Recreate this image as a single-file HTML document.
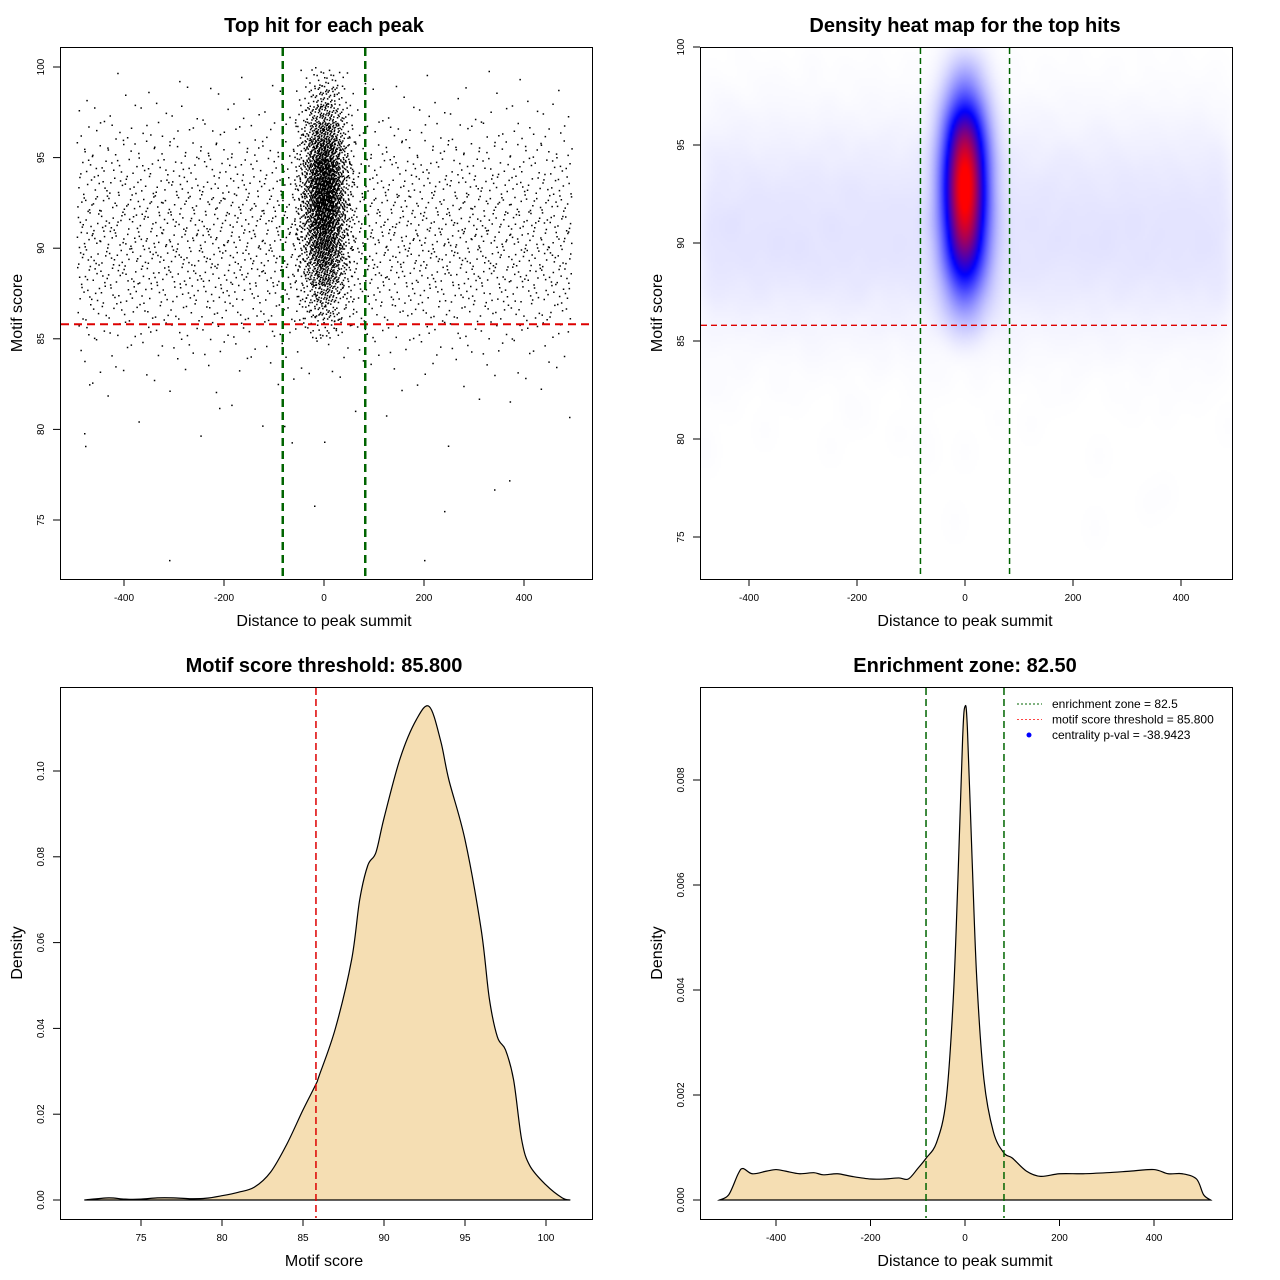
<!DOCTYPE html>
<html><head><meta charset="utf-8">
<style>
body{margin:0;background:#fff;}
#wrap{position:relative;width:1280px;height:1280px;overflow:hidden;font-family:"Liberation Sans",sans-serif;}
svg,canvas{position:absolute;left:0;top:0;}
text{font-family:"Liberation Sans",sans-serif;}
</style></head>
<body>
<div id="wrap">
<canvas id="heat" width="266" height="266" style="left:700px;top:47px;width:532px;height:532px;"></canvas>
<svg id="svg" width="1280" height="1280" xmlns="http://www.w3.org/2000/svg"></svg>
</div>
<script>
// ---- data ----
const bgScoreBins = [79,80,81,82,83,84,85,86,87,88,89,90,91,92,93,94,95,96,97,98,99];
const bgScoreCounts = [3,3,5,12,25,45,80,130,180,220,240,245,235,215,185,150,110,70,40,20,8];
const ctScoreBins = [85,86,87,88,89,90,91,92,93,94,95,96,97,98,99];
const ctScoreCounts = [20,50,90,150,210,260,300,320,320,290,240,170,100,55,25];
const ctXBins = [-55,-45,-35,-25,-15,-5,5,15,25,35,45,55];
const ctXWeights = [2,4,8,14,20,24,24,20,14,8,4,2];
const outX = [-480,-478,-310,200,-20,240,340,370,-80,-65,-210,490,-470];
const outY = [79.8,79.1,72.8,72.8,75.8,75.5,76.7,77.2,80.2,79.3,81.2,80.7,82.5];
const scoreX = [71.5,73,74,75,76,77,78,79,80,81,82,83,84,85,85.8,86,87,88,88.5,89,89.5,90,91,92,92.8,93.5,94,95,96,96.5,97,97.5,98,98.5,99,100,101,101.5];
const scoreD = [0,0.0005,0.0002,0.0002,0.0005,0.0005,0.0003,0.0004,0.001,0.0018,0.003,0.0065,0.013,0.021,0.027,0.029,0.04,0.056,0.07,0.078,0.081,0.089,0.103,0.112,0.115,0.107,0.098,0.084,0.063,0.047,0.038,0.035,0.028,0.014,0.008,0.0035,0.0005,0];
const distX = [-520,-500,-480,-470,-450,-420,-400,-380,-350,-320,-300,-270,-240,-200,-170,-140,-120,-100,-82,-60,-40,-25,-15,-5,0,5,15,25,40,60,82,100,130,160,200,250,300,350,400,430,460,490,505,520];
const distD = [0,0.0001,0.0005,0.0006,0.0005,0.00055,0.00058,0.00055,0.0005,0.00052,0.00048,0.0005,0.00045,0.0004,0.0004,0.00042,0.0004,0.0006,0.0008,0.0011,0.0019,0.0038,0.0061,0.0088,0.0094,0.009,0.0065,0.0042,0.0023,0.0013,0.0009,0.0008,0.00055,0.00045,0.0005,0.0005,0.00052,0.00055,0.00058,0.0005,0.0005,0.0004,0.0001,0];
const threshold = 85.8, zone = 82.5;

// ---- helpers ----
const NS="http://www.w3.org/2000/svg";
const svg=document.getElementById('svg');
function el(tag,attrs,parent,txt){const e=document.createElementNS(NS,tag);for(const k in attrs)e.setAttribute(k,attrs[k]);if(txt!==undefined)e.textContent=txt;(parent||svg).appendChild(e);return e;}
function lin(d0,d1,r0,r1){return v=>r0+(v-d0)*(r1-r0)/(d1-d0);}
function halton(i,b){let f=1,r=0;while(i>0){f/=b;r+=f*(i%b);i=Math.floor(i/b);}return r;}

// build points (Halton layout within each histogram bin)
const ptsX=[],ptsY=[];
let k=1;
bgScoreBins.forEach((b,i)=>{for(let j=0;j<bgScoreCounts[i];j++){const u=halton(k,2),v=halton(k,3);k++;ptsX.push(-495+u*990);ptsY.push(b+v);}});
const wsum=ctXWeights.reduce((a,b)=>a+b,0);
function invX(u){let acc=0;for(let i=0;i<ctXWeights.length;i++){const w=ctXWeights[i]/wsum;if(u<=acc+w){return ctXBins[i]-5+10*(u-acc)/w;}acc+=w;}return 60;}
ctScoreBins.forEach((b,i)=>{for(let j=0;j<ctScoreCounts[i];j++){const u=halton(k,5),v=halton(k,7);k++;ptsX.push(invX(u));ptsY.push(b+v);}});
outX.forEach((x,i)=>{ptsX.push(x);ptsY.push(outY[i]);});

function frame(x0,y0,w,h,name){el('rect',{x:x0+0.5,y:y0+0.5,width:w,height:h,fill:'none',stroke:'#000','stroke-width':1,});}
function xAxis(sx,ticks,yb,fmt,name){const g=el('g',{});
  el('line',{x1:sx(ticks[0]),x2:sx(ticks[ticks.length-1]),y1:yb+0.5,y2:yb+0.5,stroke:'#000'},g);
  ticks.forEach(t=>{el('line',{x1:sx(t),x2:sx(t),y1:yb,y2:yb+7,stroke:'#000'},g);el('text',{x:sx(t),y:yb+22,'font-size':10,'text-anchor':'middle'},g,fmt(t));});}
function yAxis(sy,ticks,xl,fmt,name){const g=el('g',{});
  el('line',{x1:xl+0.5,x2:xl+0.5,y1:sy(ticks[0]),y2:sy(ticks[ticks.length-1]),stroke:'#000'},g);
  ticks.forEach(t=>{el('line',{x1:xl-7,x2:xl,y1:sy(t),y2:sy(t),stroke:'#000'},g);const yy=sy(t);el('text',{x:xl-16,y:yy,'font-size':10,'text-anchor':'middle',transform:`rotate(-90 ${xl-16} ${yy})`},g,fmt(t));});}
function titles(cx,ty,title,xl,xly,yl,ylx,yly,prefix){
  el('text',{x:cx,y:ty,'font-size':20,'font-weight':'bold','text-anchor':'middle',},svg,title);
  el('text',{x:cx,y:xly,'font-size':16,'text-anchor':'middle',},svg,xl);
  el('text',{x:ylx,y:yly,'font-size':16,'text-anchor':'middle',transform:`rotate(-90 ${ylx} ${yly})`,},svg,yl);}
function catmull(xs,ys){let d=`M${xs[0]},${ys[0]}`;for(let i=0;i<xs.length-1;i++){const x0=xs[Math.max(0,i-1)],y0=ys[Math.max(0,i-1)],x1=xs[i],y1=ys[i],x2=xs[i+1],y2=ys[i+1],x3=xs[Math.min(xs.length-1,i+2)],y3=ys[Math.min(xs.length-1,i+2)];
  d+=` C${x1+(x2-x0)/6},${y1+(y2-y0)/6} ${x2-(x3-x1)/6},${y2-(y3-y1)/6} ${x2},${y2}`;}return d;}

// ---- panel 1: scatter ----
{const sx=lin(0,400,324,524),sy=lin(75,100,520,67);
 const g=el('g',{});
 let d='';ptsX.forEach((x,i)=>{const px=sx(x),py=sy(ptsY[i]);if(py>48&&py<578)d+=`M${px.toFixed(1)},${py.toFixed(1)}h1.5v1.5h-1.5z`;});
 el('path',{d:d,fill:'#000'},g);
 el('line',{x1:61,x2:591,y1:sy(threshold),y2:sy(threshold),stroke:'#d00','stroke-width':2,'stroke-dasharray':'8,5',});
 [-zone,zone].forEach(z=>el('line',{x1:sx(z),x2:sx(z),y1:48,y2:578,stroke:'#006400','stroke-width':2.5,'stroke-dasharray':'8,5',}));
 frame(60,47,532,532,'scatter-plot-area');
 xAxis(sx,[-400,-200,0,200,400],579,String,'scatter-x-axis');
 yAxis(sy,[75,80,85,90,95,100],60,String,'scatter-y-axis');
 titles(324,32,'Top hit for each peak','Distance to peak summit',626,'Motif score',22,313,'scatter');}

// ---- panel 2: heatmap ----
{const sx=lin(0,400,965,1181),sy=lin(75,100,537,47);
 const N=266,grid=new Float32Array(N*N);
 ptsX.forEach((x,i)=>{const gx=Math.floor((sx(x)-700)/2),gy=Math.floor((sy(ptsY[i])-47)/2);if(gx>=0&&gx<N&&gy>=0&&gy<N)grid[gy*N+gx]+=1;});
 function blur(src,sig,horiz){const r=Math.ceil(sig*3),kr=[];let ks=0;for(let i=-r;i<=r;i++){const w=Math.exp(-i*i/(2*sig*sig));kr.push(w);ks+=w;}
   const out=new Float32Array(N*N);for(let y=0;y<N;y++)for(let x=0;x<N;x++){let s=0;for(let i=-r;i<=r;i++){const xx=horiz?x+i:x,yy=horiz?y:y+i;if(xx<0||xx>=N||yy<0||yy>=N)continue;s+=src[yy*N+xx]*kr[i+r];}out[y*N+x]=s/ks;}return out;}
 const b=blur(blur(grid,4,true),7,false);
 let mx=0;for(const v of b)mx=Math.max(mx,v);
 const c=document.getElementById('heat').getContext('2d');const img=c.createImageData(N,N);
 for(let i=0;i<N*N;i++){const t=Math.min(1,b[i]/mx*1.05);let r,gg,bb;if(t<0.5){r=gg=255*(1-2*t);bb=255;}else{r=255*(2*t-1);gg=0;bb=255*(2-2*t);}img.data[i*4]=r;img.data[i*4+1]=gg;img.data[i*4+2]=bb;img.data[i*4+3]=255;}
 c.putImageData(img,0,0);
 el('line',{x1:701,x2:1231,y1:sy(threshold),y2:sy(threshold),stroke:'#d00','stroke-width':1.3,'stroke-dasharray':'6,4',});
 [-zone,zone].forEach(z=>el('line',{x1:sx(z),x2:sx(z),y1:48,y2:578,stroke:'#006400','stroke-width':1.5,'stroke-dasharray':'6,4',}));
 frame(700,47,532,532,'heat-plot-area');
 xAxis(sx,[-400,-200,0,200,400],579,String,'heat-x-axis');
 yAxis(sy,[75,80,85,90,95,100],700,String,'heat-y-axis');
 titles(965,32,'Density heat map for the top hits','Distance to peak summit',626,'Motif score',662,313,'heat');}

// ---- panel 3: score density ----
{const sx=lin(75,100,141,546),sy=lin(0,0.1,1200,771);
 const xs=scoreX.map(sx),ys=scoreD.map(sy);
 el('path',{d:catmull(xs,ys)+'Z',fill:'#f5deb3',stroke:'#000','stroke-width':1.2,});
 el('line',{x1:sx(threshold),x2:sx(threshold),y1:688,y2:1218,stroke:'#d00','stroke-width':1.5,'stroke-dasharray':'7,4',});
 frame(60,687,532,532,'score-plot-area');
 xAxis(sx,[75,80,85,90,95,100],1219,String,'score-x-axis');
 yAxis(sy,[0,0.02,0.04,0.06,0.08,0.10],60,t=>t.toFixed(2),'score-y-axis');
 titles(324,672,'Motif score threshold: 85.800','Motif score',1266,'Density',22,953,'score');}

// ---- panel 4: distance density ----
{const sx=lin(0,400,965,1154),sy=lin(0,0.008,1200,780);
 const xs=distX.map(sx),ys=distD.map(sy);
 el('path',{d:catmull(xs,ys)+'Z',fill:'#f5deb3',stroke:'#000','stroke-width':1.2,});
 [-zone,zone].forEach(z=>el('line',{x1:sx(z),x2:sx(z),y1:688,y2:1218,stroke:'#006400','stroke-width':1.5,'stroke-dasharray':'7,4',}));
 frame(700,687,532,532,'dist-plot-area');
 xAxis(sx,[-400,-200,0,200,400],1219,String,'dist-x-axis');
 yAxis(sy,[0,0.002,0.004,0.006,0.008],700,t=>t.toFixed(3),'dist-y-axis');
 titles(965,672,'Enrichment zone: 82.50','Distance to peak summit',1266,'Density',662,953,'dist');
 const lg=el('g',{});
 const items=[['enrichment zone = 82.5','#006400','line'],['motif score threshold = 85.800','#ff4444','line'],['centrality p-val = -38.9423','#00f','dot']];
 items.forEach((it,i)=>{const y=704+i*15.5;const e=el('g',{},lg);
   if(it[2]==='line')el('line',{x1:1017,x2:1042,y1:y,y2:y,stroke:it[1],'stroke-dasharray':'2,2'},e);else el('circle',{cx:1029,cy:y,r:2.5,fill:it[1]},e);
   el('text',{x:1052,y:y+4,'font-size':12},e,it[0]);});}
</script>
</body></html>
